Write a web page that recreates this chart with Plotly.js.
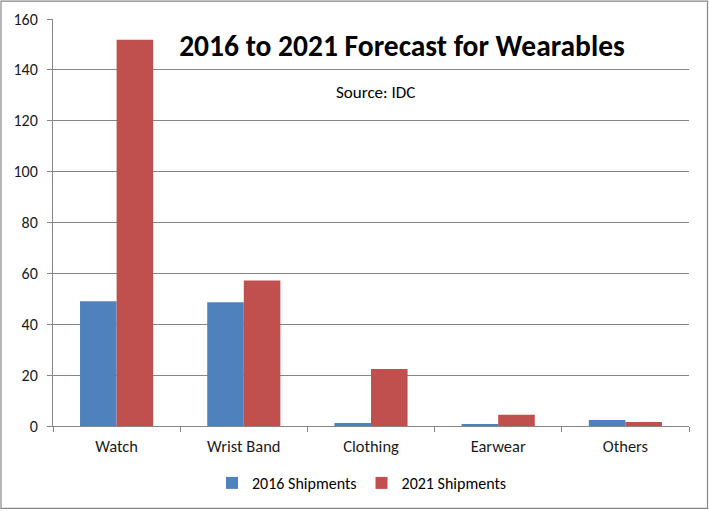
<!DOCTYPE html>
<html>
<head>
<meta charset="utf-8">
<script src="https://cdn.plot.ly/plotly-3.0.1.min.js"></script>
<style>html,body{margin:0;padding:0;background:#fff;overflow:hidden;width:709px;height:511px;}#chart{width:709px;height:511px;}</style>
</head>
<body>
<div id="chart"></div>
<script>
var categories = ["Watch", "Wrist Band", "Clothing", "Earwear", "Others"];
var shipments2016 = [49.0, 48.6, 1.2, 0.8, 2.4];
var shipments2021 = [151.8, 57.2, 22.4, 4.4, 1.6];
var seriesNames = ["2016 Shipments", "2021 Shipments"];
var yTicks = [0, 20, 40, 60, 80, 100, 120, 140, 160];

var FONT = "Carlito, Lato, 'Open Sans', sans-serif";
var GRID = "#868686";

var traces = [
  {type: "bar", name: seriesNames[0], x: categories, y: shipments2016, marker: {color: "#4F81BD"}},
  {type: "bar", name: seriesNames[1], x: categories, y: shipments2021, marker: {color: "#C0504D"}}
];

var layout = {
  width: 709, height: 511,
  margin: {l: 53, r: 20, t: 19, b: 84},
  paper_bgcolor: "#fff", plot_bgcolor: "#fff",
  barmode: "group", bargap: 0.425, bargroupgap: 0,
  font: {family: FONT, size: 16, color: "#1a1a1a"},
  title: {
    text: "<b>2016 to 2021 Forecast for Wearables</b>",
    font: {family: FONT, size: 29.5, color: "#000"},
    xref: "container", yref: "container",
    x: 0.567, xanchor: "center", y: 1 - 46/511, yanchor: "middle"
  },
  annotations: [{
    text: "Source: IDC", showarrow: false,
    xref: "paper", yref: "paper",
    x: (375 - 53) / 636, y: (427 - 93) / 408,
    xanchor: "center", yanchor: "middle",
    font: {family: FONT, size: 17, color: "#000"}
  }],
  xaxis: {
    type: "category",
    showline: true, linecolor: GRID, linewidth: 1,
    ticks: "outside", tickson: "boundaries", ticklen: 5, tickcolor: GRID,
    showgrid: false, zeroline: false,
    tickfont: {family: FONT, size: 16.5, color: "#1a1a1a"},
    ticklabelstandoff: 5
  },
  yaxis: {
    range: [0, 160], tickvals: yTicks, ticktext: yTicks.map(String),
    showline: true, linecolor: GRID, linewidth: 1,
    ticks: "outside", ticklen: 5, tickcolor: GRID,
    showgrid: true, gridcolor: GRID, gridwidth: 1,
    zeroline: false,
    tickfont: {family: FONT, size: 16, color: "#1a1a1a"},
    ticklabelstandoff: 6
  },
  legend: {
    orientation: "h", xref: "paper", yref: "paper",
    x: (362 - 53) / 636, xanchor: "center",
    y: (427 - 483) / 408, yanchor: "middle",
    font: {family: FONT, size: 16, color: "#000"},
    itemwidth: 30, traceorder: "normal"
  },
  shapes: [{
    type: "rect", xref: "paper", yref: "paper",
    x0: (1 - 53) / 636, x1: (707.5 - 53) / 636,
    y0: (427 - 509.5) / 408, y1: (427 - 1) / 408,
    line: {color: GRID, width: 1.2}, fillcolor: "rgba(0,0,0,0)", layer: "below"
  }],
  showlegend: true
};

Plotly.newPlot("chart", traces, layout, {displayModeBar: false, staticPlot: true});
</script>
</body>
</html>
